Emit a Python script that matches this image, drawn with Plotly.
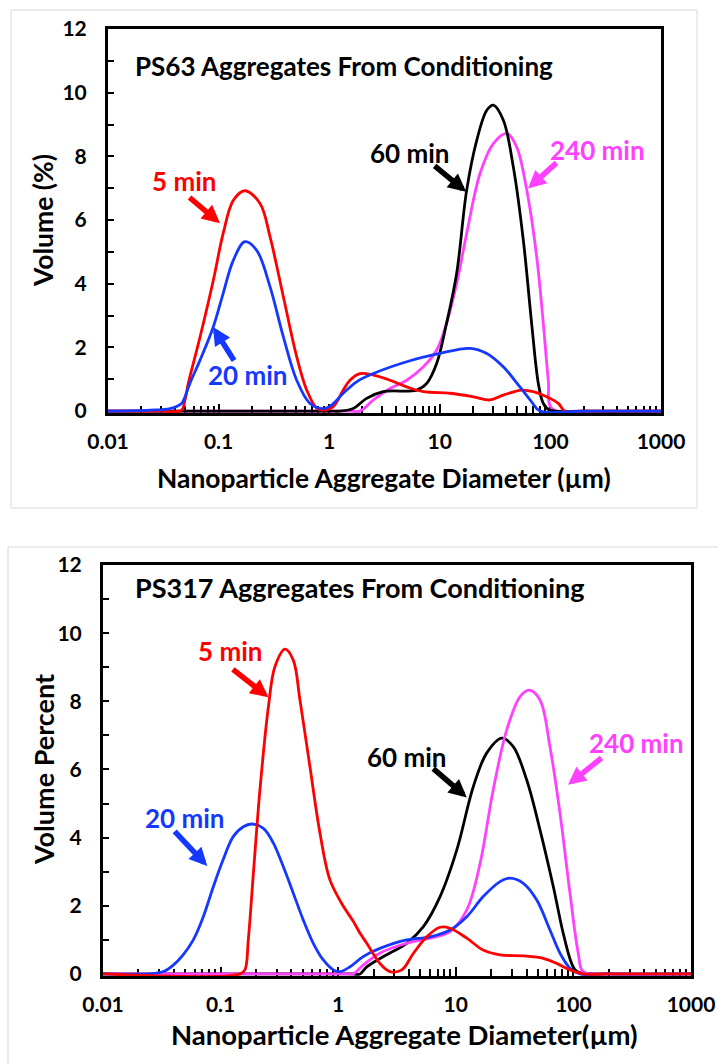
import math
import plotly.graph_objects as go

W, H = 718, 1064

# ---------------- data: PS63 (top panel) ----------------
ps63_5_x = [0.01, 0.03, 0.046, 0.0497, 0.0532, 0.068, 0.0896, 0.110, 0.136, 0.173, 0.237, 0.292, 0.385,
            0.508, 0.626, 0.771, 0.885, 1.08, 1.34, 1.54, 1.9, 2.51, 3.55, 5.02, 7.1, 12.4, 20.1, 28.4,
            37.5, 55, 70, 92.5, 118, 135, 200, 1000]
ps63_5_y = [0, 0, 0.02, 0.35, 0.87, 2.33, 4.11, 5.58, 6.62, 6.92, 6.52, 5.47, 3.59,
            1.71, 0.66, 0.09, 0.03, 0.13, 0.66, 0.97, 1.18, 1.13, 0.97, 0.76, 0.61, 0.56, 0.45, 0.35,
            0.5, 0.66, 0.61, 0.45, 0.24, 0, 0, 0]

ps63_20_x = [0.01, 0.024, 0.0364, 0.0463, 0.0497, 0.055, 0.068, 0.0896, 0.110, 0.136, 0.173, 0.221, 0.292,
             0.385, 0.508, 0.67, 0.885, 1.05, 1.34, 1.77, 2.51, 5.02, 10, 18.7, 26.6, 37.5, 53, 67.7,
             80.5, 200, 1000]
ps63_20_y = [0, 0.03, 0.08, 0.24, 0.45, 0.87, 1.6, 2.65, 3.70, 4.74, 5.32, 5.05, 3.90,
             2.33, 0.97, 0.24, 0.08, 0.19, 0.56, 0.92, 1.18, 1.55, 1.81, 1.97, 1.81, 1.39, 0.76, 0.29,
             0, 0, 0]

ps63_60_x = [0.01, 1.0, 1.25, 1.65, 2.18, 3.08, 6.18, 7.62, 9.38, 11.5, 14.2, 17.5, 21.6, 26.6, 30.5,
             37.5, 46.2, 56.9, 67.7, 77.8, 86.3, 99, 200, 1000]
ps63_60_y = [0, 0, 0, 0.08, 0.4, 0.61, 0.66, 0.87, 1.5, 2.75, 4.32, 6.94, 8.51, 9.45, 9.61,
             9.14, 7.67, 5.37, 2.75, 0.87, 0.24, 0.03, 0, 0]

ps63_240_x = [0.01, 1.5, 1.9, 2.51, 3.55, 5.02, 7.1, 9.38, 11.5, 14.2, 17.5, 23.1, 30.5, 40.3, 49.5,
              61.1, 75.2, 86.3, 95.7, 103, 200, 1000]
ps63_240_y = [0, 0, 0, 0.35, 0.71, 0.97, 1.39, 1.92, 2.75, 4.0, 5.58, 7.46, 8.4, 8.72, 8.3,
              6.94, 4.84, 2.75, 0.97, 0.08, 0, 0]

# ---------------- data: PS317 (bottom panel) ----------------
ps317_5_x = [0.01, 0.146, 0.161, 0.172, 0.19, 0.216, 0.255, 0.29, 0.353, 0.415, 0.473, 0.575, 0.7, 0.851,
             1.10, 1.34, 1.53, 1.75, 2.26, 2.75, 3.47, 4.35, 5.66, 7.35, 8.93, 12.4, 17.1, 23.8, 37.5,
             55.4, 72.1, 93.5, 121, 200, 1000]
ps317_5_y = [0, 0, 0.12, 1.0, 2.95, 5.4, 7.84, 9.02, 9.53, 9.21, 8.04, 6.08, 4.13, 2.76,
             2.0, 1.55, 1.2, 0.9, 0.31, 0.07, 0.12, 0.6, 1.09, 1.37, 1.34, 1.05, 0.7, 0.56, 0.53,
             0.46, 0.31, 0.12, 0, 0, 0]

ps317_20_x = [0.01, 0.025, 0.0326, 0.0396, 0.048, 0.0586, 0.0713, 0.0867, 0.105, 0.128, 0.156, 0.184,
              0.231, 0.281, 0.341, 0.415, 0.505, 0.614, 0.747, 0.908, 1.035, 1.26, 1.63, 2.26, 3.82,
              6.04, 8.93, 12.4, 17.1, 23.8, 28.9, 37.5, 48.8, 63.2, 76.9, 93.5, 114, 200, 1000]
ps317_20_y = [0, 0, 0.07, 0.26, 0.56, 1.0, 1.68, 2.56, 3.35, 4.03, 4.32, 4.4,
              4.27, 3.84, 3.15, 2.37, 1.58, 0.9, 0.41, 0.12, 0.07, 0.21, 0.51, 0.75, 1.0,
              1.09, 1.29, 1.68, 2.27, 2.71, 2.81, 2.66, 2.17, 1.29, 0.61, 0.17, 0, 0, 0]

ps317_60_x = [0.01, 1.3, 1.53, 1.75, 2.42, 3.82, 5.3, 7.35, 10.2, 14.1, 18.3, 24.6, 30.8, 40.1, 52,
              67.5, 82, 96.6, 107, 200, 1000]
ps317_60_y = [0, 0, 0, 0.21, 0.51, 0.9, 1.39, 2.27, 3.64, 5.5, 6.48, 6.92, 6.67, 5.69, 4.23,
              2.56, 1.19, 0.31, 0.07, 0, 0]

ps317_240_x = [0.01, 1.2, 1.34, 1.63, 2.26, 3.82, 6.04, 8.93, 12.4, 16.1, 20.8, 27.1, 35.2, 42.2, 52,
               63.2, 76.9, 93.5, 110, 121, 200, 1000]
ps317_240_y = [0, 0, 0, 0.26, 0.61, 0.9, 1.05, 1.24, 1.88, 3.25, 5.4, 7.16, 8.14, 8.33, 8.04,
               6.67, 4.72, 2.37, 0.61, 0.07, 0, 0]

x_tick_vals = [0.01, 0.1, 1, 10, 100, 1000]
x_tick_text = ["0.01", "0.1", "1", "10", "100", "1000"]
y_tick_vals = [0, 2, 4, 6, 8, 10, 12]

RED, BLUE, BLACK, MAG = "#FF0000", "#1438FF", "#000000", "#FF40FF"
FONT = "Lato"

def px_x(p):
    return p / W

def px_y(p):
    return 1 - p / H

fig = go.Figure()

def add_line(xs, ys, color, xa, ya):
    fig.add_trace(go.Scatter(x=xs, y=ys, mode="lines", xaxis=xa, yaxis=ya,
                             line=dict(color=color, width=2.8, shape="spline", smoothing=1.0),
                             showlegend=False, hoverinfo="skip"))

# top panel (draw order chosen to match overlaps)
add_line(ps63_240_x, ps63_240_y, MAG, "x", "y")
add_line(ps63_60_x, ps63_60_y, BLACK, "x", "y")
add_line(ps63_5_x, ps63_5_y, RED, "x", "y")
add_line(ps63_20_x, ps63_20_y, BLUE, "x", "y")
# bottom panel
add_line(ps317_60_x, ps317_60_y, BLACK, "x2", "y2")
add_line(ps317_240_x, ps317_240_y, MAG, "x2", "y2")
add_line(ps317_20_x, ps317_20_y, BLUE, "x2", "y2")
add_line(ps317_5_x, ps317_5_y, RED, "x2", "y2")

minor_vals = [m * 10 ** e for e in range(-2, 3) for m in range(2, 10)]

def xaxis_def(domain, anchor):
    return dict(type="log", range=[-2, 3], domain=domain, anchor=anchor, automargin=False,
                showline=True, mirror=True, linecolor="black", linewidth=3,
                showgrid=False, zeroline=False, layer="below traces",
                tickvals=x_tick_vals, ticktext=x_tick_text,
                ticks="inside", ticklen=9, tickwidth=2, tickcolor="black",
                minor=dict(tickvals=minor_vals, ticks="inside", ticklen=7, tickwidth=1.5,
                           tickcolor="black", showgrid=False),
                tickfont=dict(family=FONT, size=21, color="black", weight="bold"),
                ticklabelstandoff=8)

def yaxis_def(domain, anchor):
    return dict(range=[-0.06, 12], domain=domain, anchor=anchor, automargin=False,
                showline=True, mirror=True, linecolor="black", linewidth=3,
                showgrid=False, zeroline=False, layer="below traces",
                tickvals=y_tick_vals, ticks="inside", ticklen=6, tickwidth=2, tickcolor="black",
                minor=dict(dtick=1, ticks="inside", ticklen=6, tickwidth=2,
                           tickcolor="black", showgrid=False),
                tickfont=dict(family=FONT, size=21, color="black", weight="bold"),
                ticklabelstandoff=14)

fig.update_layout(
    width=W, height=H, autosize=False,
    margin=dict(l=0, r=0, t=0, b=0, autoexpand=False),
    paper_bgcolor="white", plot_bgcolor="white",
    xaxis=xaxis_def([px_x(108), px_x(661)], "y"),
    yaxis=yaxis_def([px_y(413), px_y(29)], "x"),
    xaxis2=xaxis_def([px_x(103), px_x(691)], "y2"),
    yaxis2=yaxis_def([px_y(976), px_y(565)], "x2"),
)

# chart area borders
fig.add_shape(type="rect", xref="paper", yref="paper",
              x0=px_x(11), x1=px_x(697), y0=px_y(508), y1=px_y(10),
              line=dict(color="#D9D9D9", width=1), layer="below")
fig.add_shape(type="rect", xref="paper", yref="paper",
              x0=px_x(8), x1=px_x(740), y0=px_y(1090), y1=px_y(547),
              line=dict(color="#D9D9D9", width=1), layer="below")

ann = []

def paper_text(text, cx, cy, size, angle=0):
    ann.append(dict(text="<b>%s</b>" % text, xref="paper", yref="paper", x=px_x(cx), y=px_y(cy),
                    xanchor="center", yanchor="middle", showarrow=False, textangle=angle,
                    font=dict(family=FONT, size=size, color="black")))

paper_text("PS63 Aggregates From Conditioning", 344, 66, 26)
paper_text("PS317 Aggregates From Conditioning", 360, 587, 27)
paper_text("Nanoparticle Aggregate Diameter (µm)", 384, 478, 26.4)
paper_text("Nanoparticle Aggregate Diameter(µm)", 404, 1034, 27.5)
paper_text("Volume (%)", 43, 221, 26.5, -90)
paper_text("Volume Percent", 43, 770, 27, -90)

def label(text, x, y, color, xa, ya, size=26):
    ann.append(dict(text="<b>%s</b>" % text, xref=xa, yref=ya, x=math.log10(x), y=y,
                    xanchor="center", yanchor="middle", showarrow=False,
                    font=dict(family=FONT, size=size, color=color)))

def arrow(x, y, ax, ay, color, xa, ya):
    ann.append(dict(text="", xref=xa, yref=ya, x=math.log10(x), y=y, ax=ax, ay=ay,
                    showarrow=True, arrowhead=2, arrowwidth=5.5, arrowsize=0.65,
                    arrowcolor=color, standoff=0, startstandoff=0))

# top panel labels
label("5 min", 0.0487, 7.22, RED, "x", "y")
arrow(0.103, 5.9, -32, -27, RED, "x", "y")
label("20 min", 0.1845, 1.13, BLUE, "x", "y")
arrow(0.089, 2.64, 22, 35, BLUE, "x", "y")
label("60 min", 5.38, 8.1, BLACK, "x", "y")
arrow(17.3, 6.89, -33, -27, BLACK, "x", "y")
label("240 min", 269, 8.19, MAG, "x", "y")
arrow(62.7, 6.99, 30, -27, MAG, "x", "y")

# bottom panel labels
label("5 min", 0.12, 9.48, RED, "x2", "y2")
arrow(0.255, 8.12, -37, -29, RED, "x2", "y2")
label("20 min", 0.0498, 4.58, BLUE, "x2", "y2")
arrow(0.077, 3.17, -34, -36, BLUE, "x2", "y2")
label("60 min", 3.85, 6.37, BLACK, "x2", "y2")
arrow(12.4, 5.18, -35, -30, BLACK, "x2", "y2")
label("240 min", 347, 6.78, MAG, "x2", "y2")
arrow(90, 5.55, 35, -28, MAG, "x2", "y2")

fig.update_layout(annotations=ann)

fig.write_html("out.html")
